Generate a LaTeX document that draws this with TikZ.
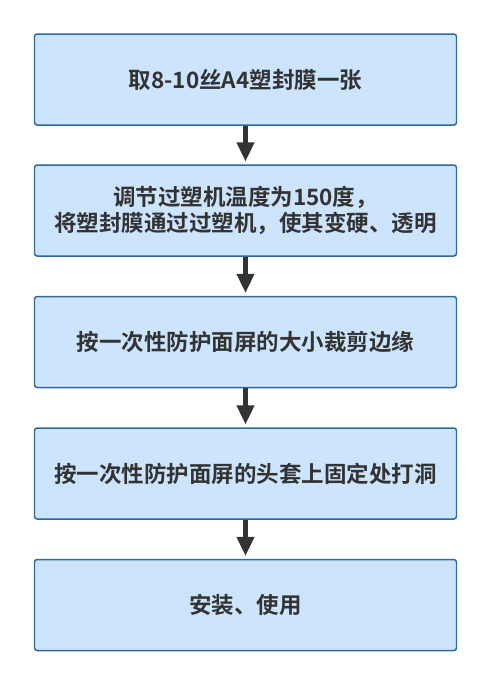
\documentclass[tikz,border=0pt]{standalone}
\usepackage{fontspec}
\setmainfont{Noto Sans CJK SC}[BoldFont={* Bold}]
\usetikzlibrary{arrows.meta,positioning}

\definecolor{boxfill}{RGB}{204,228,252}
\definecolor{boxline}{RGB}{46,104,160}
\definecolor{txtgray}{RGB}{51,51,51}

\begin{document}
\begin{tikzpicture}[
  stepbox/.style={draw=boxline, line width=0.85pt, fill=boxfill, rounded corners=1.5pt,
    minimum width=8.44cm, minimum height=1.82cm, align=center,
    text=txtgray, font=\fontsize{12.8}{14.8}\selectfont\bfseries},
  flow/.style={draw=txtgray, line width=2.9pt,
    -{Triangle[length=11pt, width=9.5pt]}, shorten >=1.5pt}
]
\useasboundingbox (0,0) rectangle (10,-13.9);

% Steps
\node[stepbox] (take) at (4.91,-1.59) {取8-10丝A4塑封膜一张};
\node[stepbox] (heat) at (4.91,-4.21) {调节过塑机温度为150度，\\将塑封膜通过过塑机，使其变硬、透明};
\node[stepbox] (cut) at (4.91,-6.84) {按一次性防护面屏的大小裁剪边缘};
\node[stepbox] (hole) at (4.91,-9.47) {按一次性防护面屏的头套上固定处打洞};
\node[stepbox] (use) at (4.91,-12.1) {安装、使用};

% Arrows
\draw[flow] (take) -- (heat);
\draw[flow] (heat) -- (cut);
\draw[flow] (cut) -- (hole);
\draw[flow] (hole) -- (use);
\end{tikzpicture}
\end{document}
